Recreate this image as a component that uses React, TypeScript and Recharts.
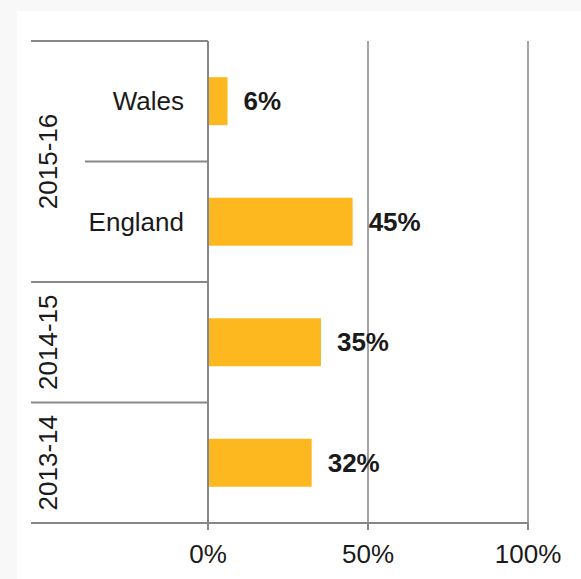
import { FC } from 'react'
import {
    BarChart,
    Bar,
    XAxis,
    YAxis,
    CartesianGrid,
    LabelList,
} from 'recharts'

// categories: inner label + outer (year) group
const groups = ['2015-16', '2015-16', '2014-15', '2013-14']
const subLabels = ['Wales', 'England', '', '']
const values = [6.1, 45.2, 35.3, 32.4]
const xTicks = [0, 50, 100]

const data = values.map((v, i) => ({
    key: `${groups[i]}|${subLabels[i]}`,
    group: groups[i],
    sub: subLabels[i],
    value: v,
}))

const W = 581
const H = 579
const MARGIN = { top: 41, right: 53, bottom: 6, left: 31 }
const Y_WIDTH = 177
const X_HEIGHT = 50
const FONT = '"Liberation Sans", Arial, sans-serif'
const AXIS = '#878787'
const GRID = '#a3a3a3'
const TEXT = '#1a1a1a'
const BAR = '#fdb71f'

const axisX = MARGIN.left + Y_WIDTH
const plotH = H - MARGIN.top - MARGIN.bottom - X_HEIGHT
const band = plotH / data.length

const YTick: FC<any> = ({ y, payload }) => {
    const i = payload.index
    const row = data[i]
    const groupStart = i === 0 || data[i - 1].group !== row.group
    const isLast = i === data.length - 1
    let count = 0
    for (let j = i; j < data.length && data[j].group === row.group; j++) count++
    const top = y - band / 2
    const mid = top + (count * band) / 2
    return (
        <g>
            <line x1={groupStart ? MARGIN.left : 85} x2={axisX} y1={top} y2={top} stroke={AXIS} strokeWidth={2} />
            {isLast && (
                <line x1={MARGIN.left} x2={axisX} y1={y + band / 2} y2={y + band / 2} stroke={AXIS} strokeWidth={2} />
            )}
            {row.sub && (
                <text x={axisX - 24} y={y} dy="0.35em" textAnchor="end" fontSize={26} fill={TEXT} fontFamily={FONT}>
                    {row.sub}
                </text>
            )}
            {groupStart && (
                <text
                    x={47.5}
                    y={mid}
                    dy="0.35em"
                    textAnchor="middle"
                    fontSize={26}
                    fill={TEXT}
                    fontFamily={FONT}
                    transform={`rotate(-90, 47.5, ${mid})`}
                >
                    {row.group}
                </text>
            )}
        </g>
    )
}

const XTick: FC<any> = ({ x, payload }) => (
    <text x={x} y={H - 16} textAnchor="middle" fontSize={26} fill={TEXT} fontFamily={FONT}>
        {payload.value}%
    </text>
)

const App: FC = () => {
    return (
        <div style={{ position: 'fixed', left: 0, top: 0, width: W, height: H, background: '#f8f8f8', overflow: 'hidden' }}>
            <div style={{ position: 'absolute', left: 17, top: 11, right: 0, bottom: 0, background: '#ffffff' }} />
            <div style={{ position: 'absolute', left: 0, top: 0 }}>
                <BarChart width={W} height={H} data={data} layout="vertical" margin={MARGIN} barCategoryGap="30%">
                    <CartesianGrid horizontal={false} vertical stroke={GRID} strokeWidth={2} />
                    <XAxis
                        type="number"
                        domain={[0, 100]}
                        ticks={xTicks}
                        height={X_HEIGHT}
                        axisLine={{ stroke: AXIS, strokeWidth: 2 }}
                        tickLine={{ stroke: AXIS, strokeWidth: 2 }}
                        tickSize={7}
                        tick={<XTick />}
                        interval={0}
                    />
                    <YAxis
                        type="category"
                        dataKey="key"
                        width={Y_WIDTH}
                        axisLine={{ stroke: AXIS, strokeWidth: 2 }}
                        tickLine={false}
                        tick={<YTick />}
                        interval={0}
                    />
                    <Bar dataKey="value" fill={BAR} isAnimationActive={false}>
                        <LabelList
                            dataKey="value"
                            position="right"
                            offset={16}
                            formatter={(v: any) => `${Math.round(v)}%`}
                            fontSize={26}
                            fontWeight="bold"
                            fill={TEXT}
                            fontFamily={FONT}
                        />
                    </Bar>
                </BarChart>
            </div>
        </div>
    )
}

export default App
